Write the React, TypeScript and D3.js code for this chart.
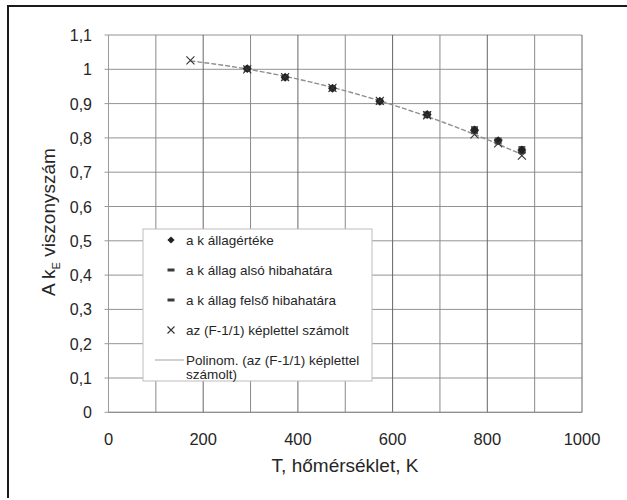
import React from 'react'
import * as d3 from 'd3'

// temperatures (K)
const tempsCalc = [173, 293, 373, 473, 573, 673, 773, 823, 873]
const tempsMeas = [293, 373, 473, 573, 673, 773, 823, 873]
// a k állagértéke
const measValues = [1.002, 0.977, 0.945, 0.907, 0.868, 0.823, 0.792, 0.765]
// lower / upper error limits
const lowerValues = [0.997, 0.972, 0.94, 0.902, 0.862, 0.815, 0.785, 0.757]
const upperValues = [1.006, 0.981, 0.949, 0.911, 0.873, 0.83, 0.797, 0.772]
// az (F-1/1) képlettel számolt
const calcValues = [1.026, 1.0, 0.977, 0.946, 0.908, 0.866, 0.81, 0.784, 0.748]

const xTicks = [0, 200, 400, 600, 800, 1000]
const yTicks = [0, 0.1, 0.2, 0.3, 0.4, 0.5, 0.6, 0.7, 0.8, 0.9, 1, 1.1]
const xGrid = d3.range(0, 1001, 100)

const legendItems = [
  'a k állagértéke',
  'a k állag alsó hibahatára',
  'a k állag felső hibahatára',
  'az (F-1/1) képlettel számolt',
]

// quadratic least squares for the trendline
function polyFit(xs: number[], ys: number[]) {
  const n = xs.length
  let s1 = 0, s2 = 0, s3 = 0, s4 = 0, t0 = 0, t1 = 0, t2 = 0
  xs.forEach((x, i) => {
    const y = ys[i]
    s1 += x; s2 += x * x; s3 += x ** 3; s4 += x ** 4
    t0 += y; t1 += x * y; t2 += x * x * y
  })
  const M = [[n, s1, s2, t0], [s1, s2, s3, t1], [s2, s3, s4, t2]]
  for (let c = 0; c < 3; c++) {
    for (let r = c + 1; r < 3; r++) {
      const f = M[r][c] / M[c][c]
      for (let k = c; k < 4; k++) M[r][k] -= f * M[c][k]
    }
  }
  const co = [0, 0, 0]
  for (let r = 2; r >= 0; r--) {
    let s = M[r][3]
    for (let k = r + 1; k < 3; k++) s -= M[r][k] * co[k]
    co[r] = s / M[r][r]
  }
  return (x: number) => co[0] + co[1] * x + co[2] * x * x
}

const FONT = '"Liberation Sans", Arial, sans-serif'
const TXT = '#262626'

export default function App() {
  const x = d3.scaleLinear().domain([0, 1000]).range([108.5, 582])
  const y = d3.scaleLinear().domain([0, 1.1]).range([412.3, 35])
  const fit = polyFit(tempsCalc, calcValues)
  const trendPts = d3.range(tempsCalc[0], tempsCalc[tempsCalc.length - 1] + 1, 5).map(t => [t, fit(t)] as [number, number])
  const trend = d3.line<[number, number]>().x(d => x(d[0])).y(d => y(d[1]))(trendPts) || ''
  const diamond = d3.symbol().type(d3.symbolSquare).size(40)() || ''
  const diamondSmall = d3.symbol().type(d3.symbolSquare).size(26)() || ''

  const cross = (cx: number, cy: number, r: number, key: string) => (
    <path key={key} d={`M${cx - r},${cy - r}L${cx + r},${cy + r}M${cx - r},${cy + r}L${cx + r},${cy - r}`}
      stroke="#333" strokeWidth={1.1} fill="none" />
  )
  const dash = (cx: number, cy: number, key: string, fill = '#3a3a3a') => (
    <rect key={key} x={cx - 3.5} y={cy - 1.5} width={7} height={3} fill={fill} />
  )

  const legX = 143, legY = 229
  const rowY = [240, 270, 300, 330, 360]
  const LFS = 13.5

  return (
    <svg width={627} height={500} style={{ position: 'absolute', left: 0, top: 0, background: '#fff' }}>
      <rect x={0} y={0} width={627} height={500} fill="#fff" />
      {/* outer frame */}
      <path d="M8,498V6H627" stroke="#1a1a1a" strokeWidth={2} fill="none" />

      {/* gridlines */}
      {yTicks.map(t => (
        <line key={'gy' + t} x1={x(0)} x2={x(1000)} y1={y(t)} y2={y(t)} stroke="#939393" strokeWidth={1} />
      ))}
      {xGrid.map(t => (
        <line key={'gx' + t} x1={x(t)} x2={x(t)} y1={y(1.1)} y2={y(0)} stroke={t % 200 === 0 ? '#666' : '#8a8a8a'} strokeWidth={1} />
      ))}
      {/* axes */}
      <line x1={x(0)} x2={x(0)} y1={y(1.1)} y2={y(0)} stroke="#9a9a9a" />
      <line x1={x(0)} x2={x(1000)} y1={y(0)} y2={y(0)} stroke="#8a8a8a" />
      {yTicks.map(t => (
        <line key={'ty' + t} x1={x(0) - 4} x2={x(0)} y1={y(t)} y2={y(t)} stroke="#9a9a9a" />
      ))}

      {/* tick labels */}
      {yTicks.map(t => (
        <text key={'ly' + t} x={92} y={y(t) + 6} textAnchor="end" fontFamily={FONT} fontSize={16} fill={TXT}>
          {d3.format('~g')(+t.toFixed(1)).replace('.', ',')}
        </text>
      ))}
      {xTicks.map(t => (
        <text key={'lx' + t} x={x(t)} y={445} textAnchor="middle" fontFamily={FONT} fontSize={16.5} fill={TXT}>{t}</text>
      ))}

      {/* axis titles */}
      <text x={345} y={472} textAnchor="middle" fontFamily={FONT} fontSize={19} fill={TXT}>T, hőmérséklet, K</text>
      <text transform="translate(55,222) rotate(-90)" textAnchor="middle" fontFamily={FONT} fontSize={19} fill={TXT}>
        A k<tspan fontSize={11} dy={5}>E</tspan><tspan dy={-5}> viszonyszám</tspan>
      </text>

      {/* trendline */}
      <path d={trend} fill="none" stroke="#8f8f8f" strokeWidth={1.4} strokeDasharray="5,2" />

      {/* series */}
      {tempsMeas.map((t, i) => dash(x(t), y(lowerValues[i]), 'lo' + i, '#555'))}
      {tempsMeas.map((t, i) => dash(x(t), y(upperValues[i]), 'up' + i, '#555'))}
      {tempsMeas.map((t, i) => (
        <path key={'dm' + i} d={diamond} transform={`translate(${x(t)},${y(measValues[i])}) rotate(45)`} fill="#222" />
      ))}
      {tempsCalc.map((t, i) => cross(x(t), y(calcValues[i]), 4, 'cx' + i))}

      {/* legend */}
      <rect x={legX} y={legY} width={229} height={152} fill="#fff" stroke="#bdbdbd" strokeWidth={1} />
      {legendItems.map((s, i) => (
        <text key={'lg' + i} x={186} y={rowY[i] + 5} fontFamily={FONT} fontSize={LFS} fill={TXT}>{s}</text>
      ))}
      <path d={diamondSmall} transform={`translate(171,${rowY[0]}) rotate(45)`} fill="#222" />
      {dash(171, rowY[1], 'ld1')}
      {dash(171, rowY[2], 'ld2')}
      {cross(171, rowY[3], 3.5, 'lc')}
      <line x1={155} x2={184} y1={rowY[4]} y2={rowY[4]} stroke="#c4c4c4" strokeWidth={1.6} />
      <text x={186} y={rowY[4] + 5} fontFamily={FONT} fontSize={LFS} fill={TXT}>Polinom. (az (F-1/1) képlettel</text>
      <text x={186} y={rowY[4] + 19} fontFamily={FONT} fontSize={LFS} fill={TXT}>számolt)</text>
    </svg>
  )
}
